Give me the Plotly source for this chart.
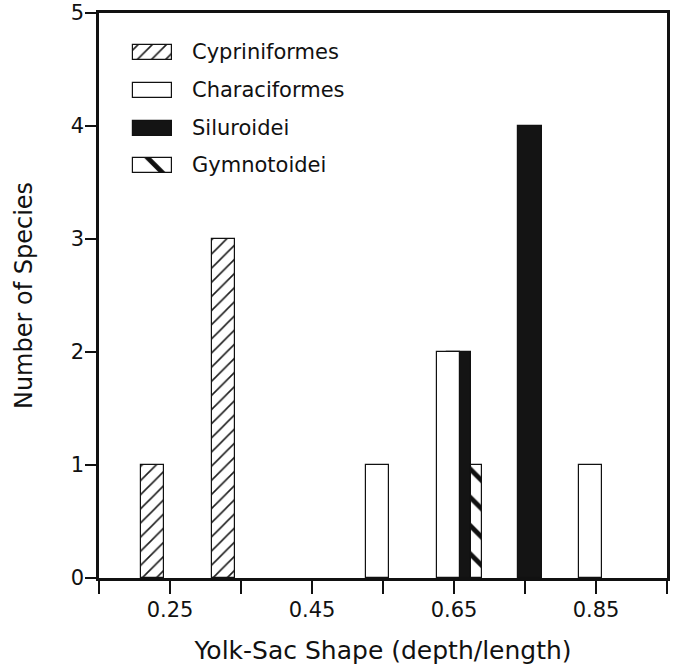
import plotly.graph_objects as go

# ---------------- data ----------------
series_names = ["Cypriniformes", "Characiformes", "Siluroidei", "Gymnotoidei"]

cyp_bins = [0.25, 0.35]
cyp_counts = [1, 3]

char_bins = [0.55, 0.65, 0.85]
char_counts = [1, 2, 1]

sil_bins = [0.65, 0.75]
sil_counts = [2, 4]

gym_bins = [0.65]
gym_counts = [1]

x_tick_values = [0.15, 0.25, 0.35, 0.45, 0.55, 0.65, 0.75, 0.85, 0.95]
x_tick_labels = ["", "0.25", "", "0.45", "", "0.65", "", "0.85", ""]
y_tick_values = [0, 1, 2, 3, 4, 5]

x_title = "Yolk-Sac Shape (depth/length)"
y_title = "Number of Species"

# ---------------- styling / geometry ----------------
FONT = "DejaVu Sans"
W, H = 673, 672
ML, MR, MT, MB = 99, 6, 13, 94
plot_w = W - ML - MR
plot_h = H - MT - MB
X0, X1 = 0.15, 0.95
PX = (X1 - X0) / plot_w  # data units per pixel

styles = {
    "Cypriniformes": dict(color="white",
                          pattern=dict(shape="/", fgcolor="#1e1e1e", bgcolor="white",
                                       size=10, solidity=0.16, fillmode="replace")),
    "Characiformes": dict(color="white"),
    "Siluroidei": dict(color="#141414"),
    "Gymnotoidei": dict(color="white",
                        pattern=dict(shape="\\", fgcolor="#101010", bgcolor="white",
                                     size=20, solidity=0.24, fillmode="replace")),
}
# legend swatch tweaks (the Gymnotoidei key shows a single heavy stroke)
legend_pattern_override = {
    "Gymnotoidei": dict(shape="\\", fgcolor="#101010", bgcolor="white",
                        size=34, solidity=0.14, fillmode="replace"),
}
# (offset of bar centre from bin tick, bar width) in pixels
placement = {
    "Cypriniformes": (-17.5, 23),
    "Characiformes": (-5.5, 23),
    "Siluroidei": (5.0, 24),
    "Gymnotoidei": (22.5, 11),
}
series_data = {
    "Cypriniformes": (cyp_bins, cyp_counts),
    "Characiformes": (char_bins, char_counts),
    "Siluroidei": (sil_bins, sil_counts),
    "Gymnotoidei": (gym_bins, gym_counts),
}
draw_order = ["Cypriniformes", "Siluroidei", "Characiformes", "Gymnotoidei"]


def marker_for(name, legend=False):
    m = dict(styles[name])
    if legend and name in legend_pattern_override:
        m["pattern"] = legend_pattern_override[name]
    m["line"] = dict(color="#111111", width=1.2)
    return m


fig = go.Figure()
for name in draw_order:
    bins, counts = series_data[name]
    off, wpx = placement[name]
    fig.add_trace(go.Bar(
        x=[b + off * PX for b in bins],
        y=counts,
        width=wpx * PX,
        name=name,
        marker=marker_for(name),
        showlegend=False,
        xaxis="x", yaxis="y",
    ))

# ---------------- custom legend (swatches on an overlay axis) ----------------
legend_rows_px = [52, 90, 128, 165]   # vertical centres (px from top of figure)
sw_left_px, sw_right_px, sw_h_px = 133, 172, 15
text_left_px = 190


def fx(px):
    return (px - ML) / plot_w


def fy(py):
    return (MT + plot_h - py) / plot_h


for name, row in zip(series_names, legend_rows_px):
    fig.add_trace(go.Bar(
        orientation="h",
        y=[fy(row)],
        x=[fx(sw_right_px) - fx(sw_left_px)],
        base=[fx(sw_left_px)],
        width=sw_h_px / plot_h,
        marker=marker_for(name, legend=True),
        showlegend=False,
        hoverinfo="skip",
        xaxis="x2", yaxis="y2",
    ))
    fig.add_annotation(
        x=fx(text_left_px), y=fy(row), xref="paper", yref="paper",
        text=name, showarrow=False, xanchor="left", yanchor="middle",
        font=dict(family=FONT, size=21, color="#111111"),
    )

axis_common = dict(
    showgrid=False, zeroline=False, showline=True, linecolor="#111111",
    linewidth=2.5, mirror=True, ticks="outside", tickcolor="#111111",
    tickwidth=1.5, automargin=False,
)

fig.update_layout(
    width=W, height=H,
    margin=dict(l=ML, r=MR, t=MT, b=MB, pad=0),
    paper_bgcolor="white", plot_bgcolor="white",
    barmode="overlay",
    bargap=0,
    showlegend=False,
    font=dict(family=FONT, color="#111111"),
    xaxis=dict(
        range=[X0, X1], tickmode="array", tickvals=x_tick_values,
        ticktext=x_tick_labels, ticklen=13,
        tickfont=dict(family=FONT, size=21, color="#111111"),
        ticklabelstandoff=-2,
        title=dict(text=x_title, font=dict(family=FONT, size=25, color="#111111"),
                   standoff=21),
        **axis_common,
    ),
    yaxis=dict(
        range=[0, 5], tickmode="array", tickvals=y_tick_values, ticklen=11,
        tickfont=dict(family=FONT, size=21, color="#111111"),
        ticklabelstandoff=-3,
        title=dict(text=y_title, font=dict(family=FONT, size=24, color="#111111"),
                   standoff=32),
        **axis_common,
    ),
    xaxis2=dict(range=[0, 1], domain=[0, 1], overlaying="x", anchor="y2",
                visible=False, fixedrange=True),
    yaxis2=dict(range=[0, 1], domain=[0, 1], overlaying="y", anchor="x2",
                visible=False, fixedrange=True),
)

fig.write_html("out.html",
               config={"displayModeBar": False},
               post_script="document.body.style.margin='0';"
                           "document.body.style.padding='0';")
